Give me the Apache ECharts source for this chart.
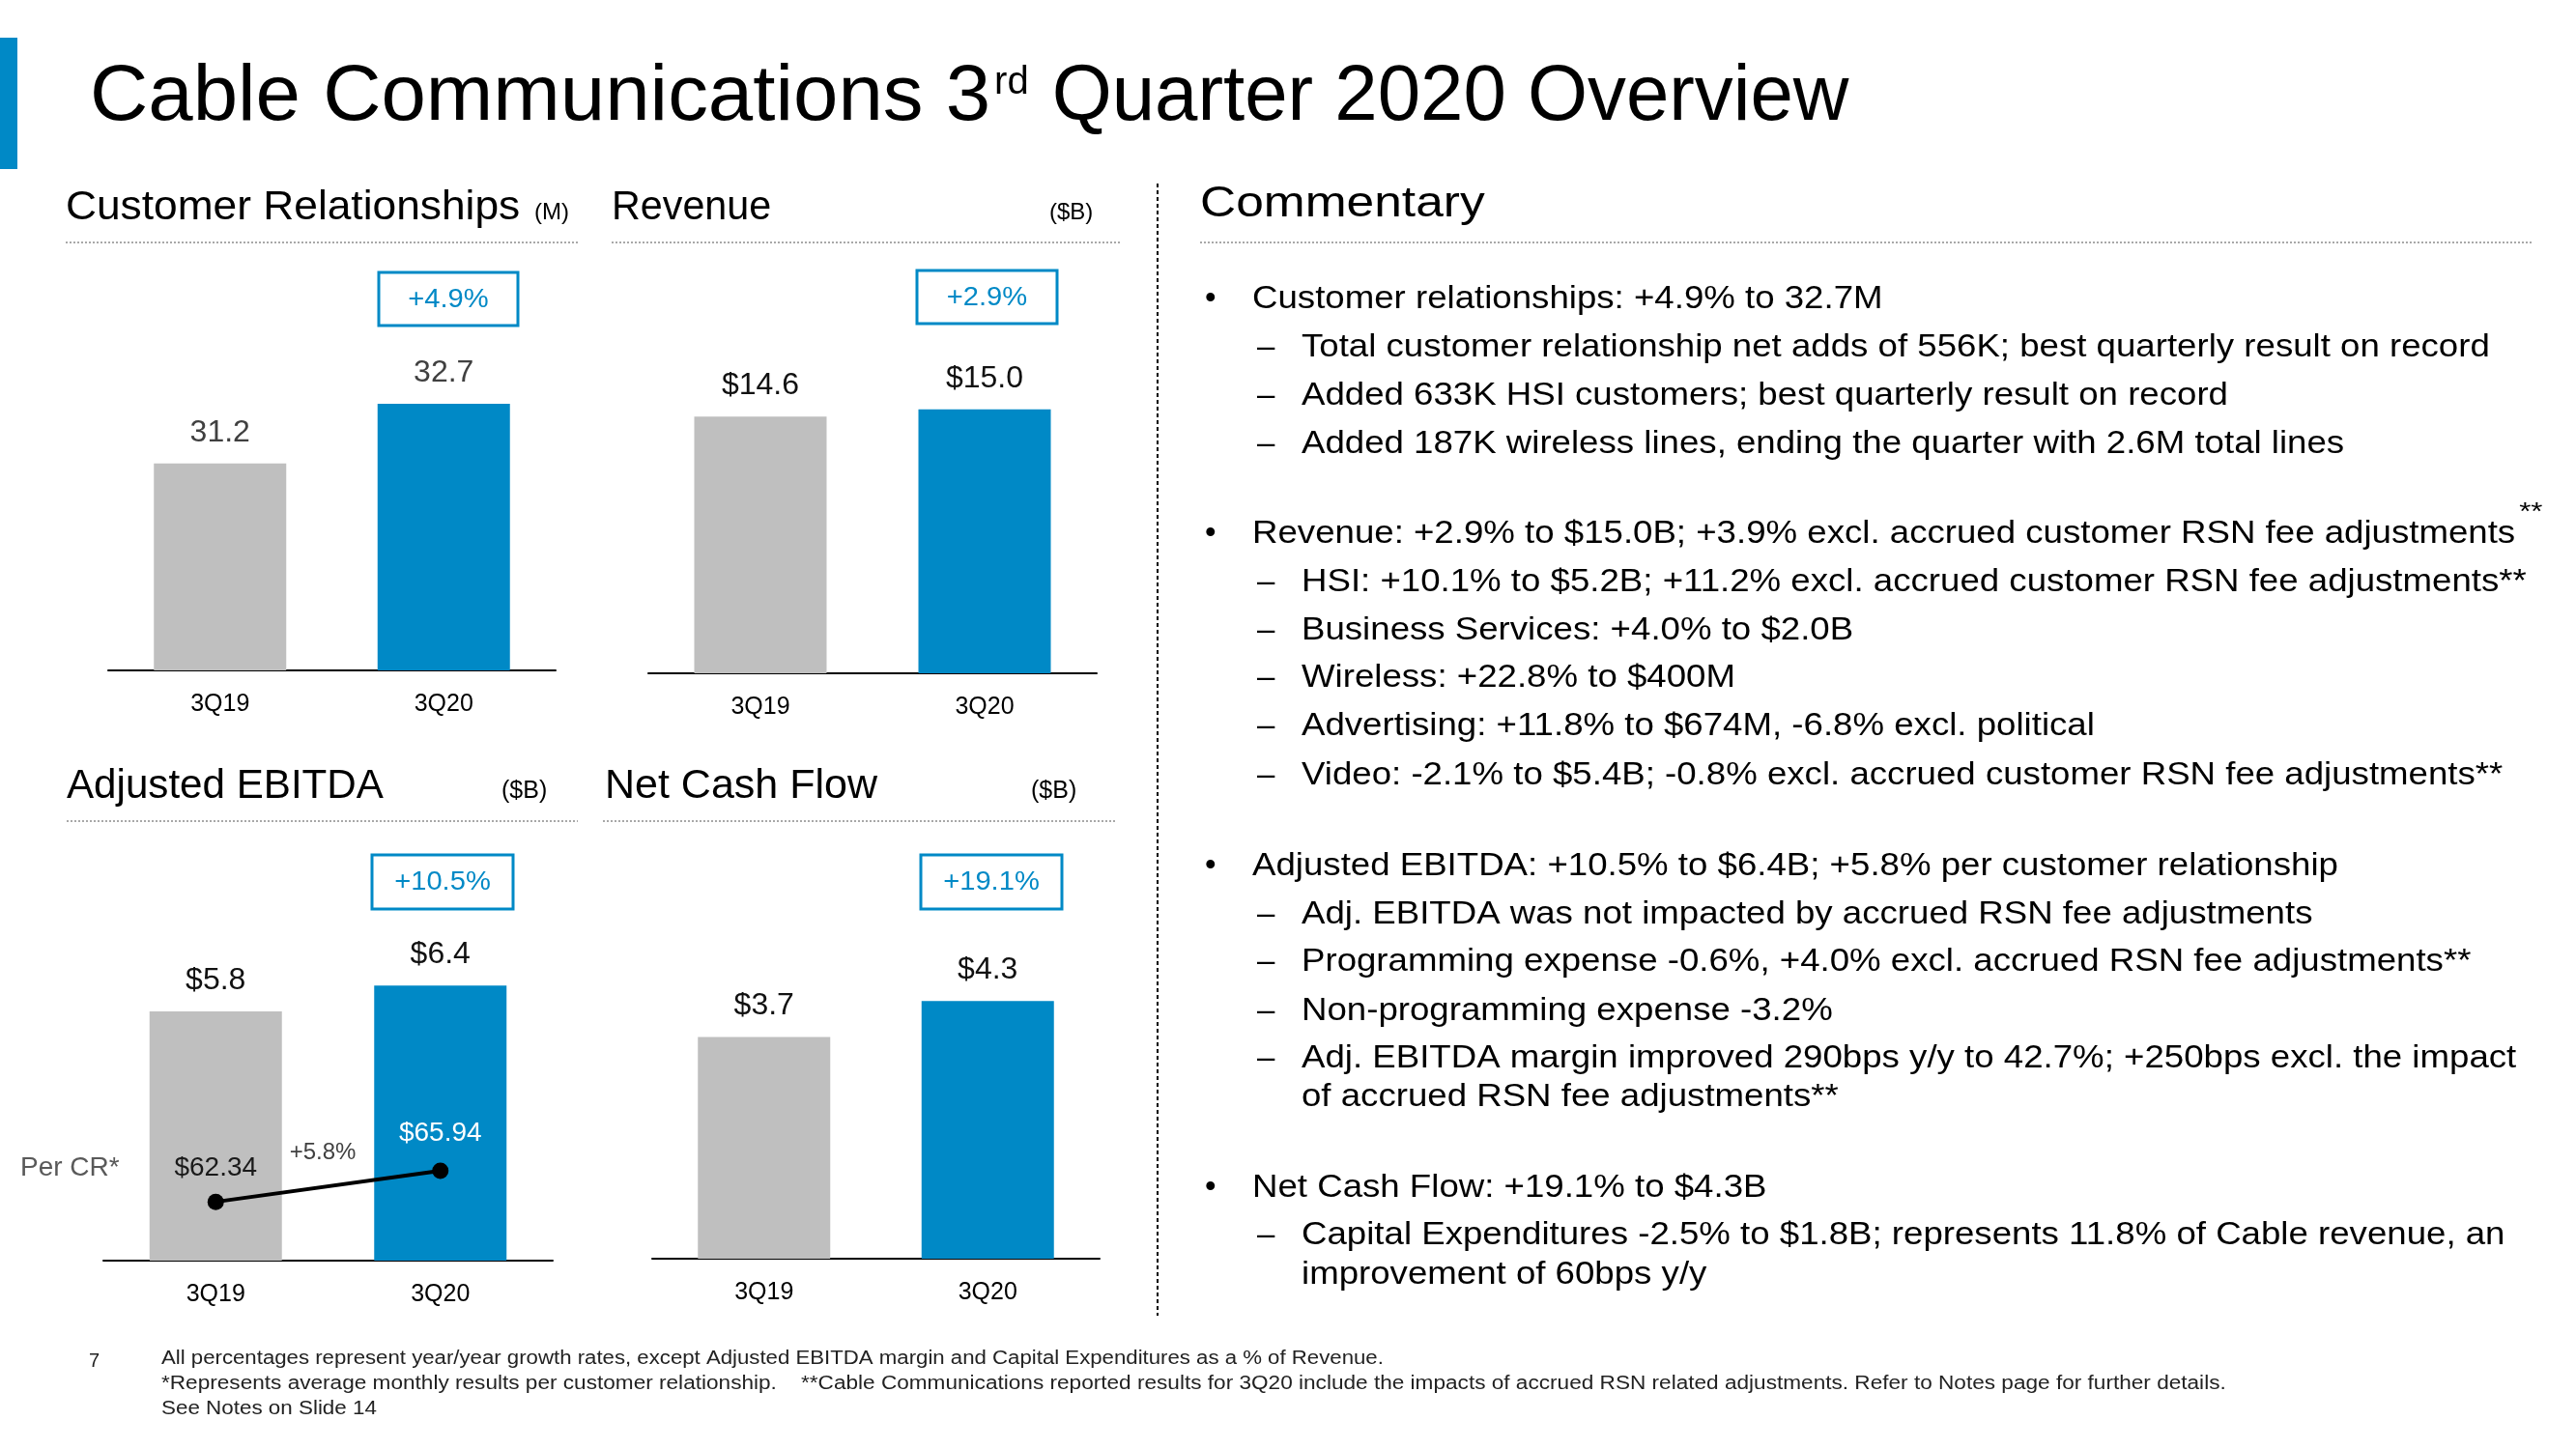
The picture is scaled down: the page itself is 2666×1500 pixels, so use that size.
<!DOCTYPE html>
<html>
<head>
<meta charset="utf-8">
<script src="https://cdn.jsdelivr.net/npm/echarts@6.0.0/dist/echarts.min.js"></script>
<style>
  html, body { margin: 0; padding: 0; background: #ffffff; }
  #main { width: 2666px; height: 1500px; }
</style>
</head>
<body>
<div id="main"></div>
<script>
// ---------------- DATA ----------------
const categories = ['3Q19', '3Q20'];
const customerRelationships = [31.2, 32.7];   // (M)
const revenue = [14.6, 15.0];                 // ($B)
const adjustedEbitda = [5.8, 6.4];            // ($B)
const netCashFlow = [3.7, 4.3];               // ($B)
const ebitdaPerCR = [62.34, 65.94];           // ($ per customer relationship)
const growthLabels = ['+4.9%', '+2.9%', '+10.5%', '+19.1%'];
const perCRGrowth = '+5.8%';

const titleParts = ['Cable Communications 3', 'rd', 'Quarter 2020 Overview'];
const chartTitles = ['Customer Relationships', 'Revenue', 'Adjusted EBITDA', 'Net Cash Flow'];
const chartUnits = ['(M)', '($B)', '($B)', '($B)'];

const commentary = [
  ['b', 'Customer relationships: +4.9% to 32.7M'],
  ['d', 'Total customer relationship net adds of 556K; best quarterly result on record'],
  ['d', 'Added 633K HSI customers; best quarterly result on record'],
  ['d', 'Added 187K wireless lines, ending the quarter with 2.6M total lines'],
  ['b', 'Revenue: +2.9% to $15.0B; +3.9% excl. accrued customer RSN fee adjustments'],
  ['d', 'HSI: +10.1% to $5.2B; +11.2% excl. accrued customer RSN fee adjustments**'],
  ['d', 'Business Services: +4.0% to $2.0B'],
  ['d', 'Wireless: +22.8% to $400M'],
  ['d', 'Advertising: +11.8% to $674M, -6.8% excl. political'],
  ['d', 'Video: -2.1% to $5.4B; -0.8% excl. accrued customer RSN fee adjustments**'],
  ['b', 'Adjusted EBITDA: +10.5% to $6.4B; +5.8% per customer relationship'],
  ['d', 'Adj. EBITDA was not impacted by accrued RSN fee adjustments'],
  ['d', 'Programming expense -0.6%, +4.0% excl. accrued RSN fee adjustments**'],
  ['d', 'Non-programming expense -3.2%'],
  ['d', 'Adj. EBITDA margin improved 290bps y/y to 42.7%; +250bps excl. the impact'],
  ['c', 'of accrued RSN fee adjustments**'],
  ['b', 'Net Cash Flow: +19.1% to $4.3B'],
  ['d', 'Capital Expenditures -2.5% to $1.8B; represents 11.8% of Cable revenue, an'],
  ['c', 'improvement of 60bps y/y']
];
const footnotes = [
  'All percentages represent year/year growth rates, except Adjusted EBITDA margin and Capital Expenditures as a % of Revenue.',
  '*Represents average monthly results per customer relationship.    **Cable Communications reported results for 3Q20 include the impacts of accrued RSN related adjustments. Refer to Notes page for further details.',
  'See Notes on Slide 14'
];
const pageNumber = '7';

// ---------------- STYLE / LAYOUT ----------------
const F = '"Liberation Sans", Arial, Helvetica, sans-serif';
const BLUE = '#0089C6';
const GRAY = '#BFBFBF';
const barColors = [GRAY, BLUE];

const mctx = document.createElement('canvas').getContext('2d');
function tw(text, size) { mctx.font = size + 'px ' + F; return mctx.measureText(text).width; }

// text with alphabetic baseline at "base", optional horizontal stretch
function T(text, x, base, size, color, align, sx) {
  return {
    type: 'text', silent: true, z: 10,
    x: x, y: base - 0.3465 * size, scaleX: sx || 1, scaleY: 1,
    style: {
      text: text, x: 0, y: 0,
      fontSize: size, fontFamily: F, fill: color || '#000',
      align: align || 'left', textAlign: align || 'left',
      verticalAlign: 'middle', textVerticalAlign: 'middle'
    }
  };
}
function hline(x1, x2, y, color, dash, w) {
  return { type: 'line', silent: true, shape: { x1: x1, y1: y, x2: x2, y2: y },
    style: { stroke: color, lineWidth: w || 2, lineDash: dash } };
}
function box(x, y, w, h, label) {
  return [
    { type: 'rect', silent: true, z: 5, shape: { x: x, y: y, width: w, height: h },
      style: { fill: '#fff', stroke: BLUE, lineWidth: 3 } },
    T(label, x + w / 2, y + h / 2 + 0.36 * 28, 28, BLUE, 'center', 1.04)
  ];
}

const graphics = [];
// left blue accent
graphics.push({ type: 'rect', silent: true, shape: { x: 0, y: 39, width: 18, height: 136 }, style: { fill: BLUE } });
// title with superscript
const tSize = 81, supSize = 40, tScale = 1.03;
const t1w = tw(titleParts[0], tSize) * tScale;
const supX = 93 + t1w + 4;
const supW = tw(titleParts[1], supSize);
graphics.push(T(titleParts[0], 93, 130, tSize, '#000', 'left', tScale));
graphics.push(T(titleParts[1], supX, 100, supSize, '#000'));
graphics.push(T(titleParts[2], supX + supW + 24, 130, tSize, '#000', 'left', 0.985));

// section headers
graphics.push(T(chartTitles[0], 68, 230, 43, '#000', 'left', 1.03));
graphics.push(T(chartUnits[0], 553, 229, 24));
graphics.push(T(chartTitles[1], 633, 230, 43, '#000', 'left', 0.96));
graphics.push(T(chartUnits[1], 1086, 229, 24));
graphics.push(T(chartTitles[2], 69, 829, 43, '#000', 'left', 0.98));
graphics.push(T(chartUnits[2], 519, 828, 25));
graphics.push(T(chartTitles[3], 626, 829, 43));
graphics.push(T(chartUnits[3], 1067, 828, 25));
graphics.push(T('Commentary', 1242, 227, 44, '#000', 'left', 1.17));

// dotted separators
const DOT = '#a8a8a8';
graphics.push(hline(68, 599, 251, DOT, [2, 2]));
graphics.push(hline(633, 1161, 251, DOT, [2, 2]));
graphics.push(hline(1242, 2621, 251, DOT, [2, 2]));
graphics.push(hline(69, 598, 850, DOT, [2, 2]));
graphics.push(hline(624, 1154, 850, DOT, [2, 2]));
// vertical dashed divider
graphics.push({ type: 'line', silent: true, shape: { x1: 1198, y1: 190, x2: 1198, y2: 1362 },
  style: { stroke: '#000', lineWidth: 2, lineDash: [4, 3] } });

// growth boxes
graphics.push(...box(392, 282, 144, 55, growthLabels[0]));
graphics.push(...box(949, 280, 145, 55, growthLabels[1]));
graphics.push(...box(385, 885, 146, 56, growthLabels[2]));
graphics.push(...box(953, 885, 146, 56, growthLabels[3]));

// per CR annotations
graphics.push(T('Per CR*', 21, 1219, 28, '#595959'));
graphics.push(T(perCRGrowth, 334, 1202, 24, '#404040', 'center'));

// commentary
const CS = 33, CX = 1.11;
const baselines = [321, 371, 421, 471, 564, 614, 664, 713, 763, 814, 908, 958, 1007, 1058, 1107, 1147, 1241, 1290, 1331];
commentary.forEach((item, i) => {
  const b = baselines[i];
  if (item[0] === 'b') {
    graphics.push(T('\u2022', 1247, b, CS));
    graphics.push(T(item[1], 1296, b, CS, '#000', 'left', CX));
  } else if (item[0] === 'd') {
    graphics.push(T('\u2013', 1301, b, CS));
    graphics.push(T(item[1], 1347, b, CS, '#000', 'left', CX));
  } else {
    graphics.push(T(item[1], 1347, b, CS, '#000', 'left', CX));
  }
});
// floating ** after Revenue bullet
graphics.push(T('**', 1296 + tw(commentary[4][1], CS) * CX + 4, 540, 26, '#000', 'left', 1.2));

// footer
const FX = 1.12;
graphics.push(T(pageNumber, 92, 1416, 20, '#222'));
graphics.push(T(footnotes[0], 167, 1413, 20, '#222', 'left', 1.11));
graphics.push(T(footnotes[1], 167, 1439, 20, '#222', 'left', 1.13));
graphics.push(T(footnotes[2], 167, 1465, 20, '#222', 'left', FX));

// ---------------- CHART ----------------
const grids = [
  { left: 112, top: 282, width: 463, height: 412 },
  { left: 671, top: 280, width: 464, height: 417 },
  { left: 107, top: 885, width: 465, height: 420 },
  { left: 675, top: 885, width: 463, height: 418 }
];
const yRanges = [[26, 36], [0, 22.9], [0, 9.44], [0, 6.74]];

const xAxes = grids.map((g, i) => ({
  type: 'category', gridIndex: i, data: categories, boundaryGap: true,
  axisLine: { show: true, lineStyle: { color: '#000', width: 2 } },
  axisTick: { show: false },
  axisLabel: { fontSize: 25, color: '#000', fontFamily: F, margin: 23 }
}));
const yAxes = yRanges.map((r, i) => ({
  type: 'value', gridIndex: i, min: r[0], max: r[1], startValue: r[0], show: false,
  splitLine: { show: false }
}));
yAxes.push({ type: 'value', gridIndex: 2, min: 55.5, max: 102.7, show: false, splitLine: { show: false } });

function barSeries(gi, data, fmt, labelColor) {
  return {
    type: 'bar', xAxisIndex: gi, yAxisIndex: gi, barWidth: 137, silent: true, clip: true,
    data: data.map((v, i) => ({ value: v, itemStyle: { color: barColors[i] } })),
    label: { show: true, position: 'top', distance: 16, formatter: fmt,
      color: labelColor, fontSize: 32, fontFamily: F }
  };
}
const plain = p => p.value.toFixed(1);
const dollar = p => '$' + p.value.toFixed(1);

const perCRLabelColors = ['#1a1a1a', '#ffffff'];
const perCRLabelGap = [12, 16];
const series = [
  barSeries(0, customerRelationships, plain, '#404040'),
  barSeries(1, revenue, dollar, '#111'),
  barSeries(2, adjustedEbitda, dollar, '#111'),
  barSeries(3, netCashFlow, dollar, '#111'),
  {
    type: 'line', xAxisIndex: 2, yAxisIndex: 4, z: 5, silent: true,
    symbol: 'circle', symbolSize: 17,
    lineStyle: { color: '#000', width: 4 },
    itemStyle: { color: '#000' },
    data: ebitdaPerCR.map((v, i) => ({ value: v,
      label: { color: perCRLabelColors[i], distance: perCRLabelGap[i] } })),
    label: { show: true, position: 'top', distance: 14, fontSize: 28, fontFamily: F,
      formatter: p => '$' + p.value.toFixed(2) }
  }
];

const chart = echarts.init(document.getElementById('main'), null, { renderer: 'canvas' });
chart.setOption({
  animation: false,
  backgroundColor: '#ffffff',
  textStyle: { fontFamily: F },
  grid: grids.map(g => Object.assign({ containLabel: false }, g)),
  xAxis: xAxes,
  yAxis: yAxes,
  series: series,
  graphic: { elements: graphics }
});
</script>
</body>
</html>
